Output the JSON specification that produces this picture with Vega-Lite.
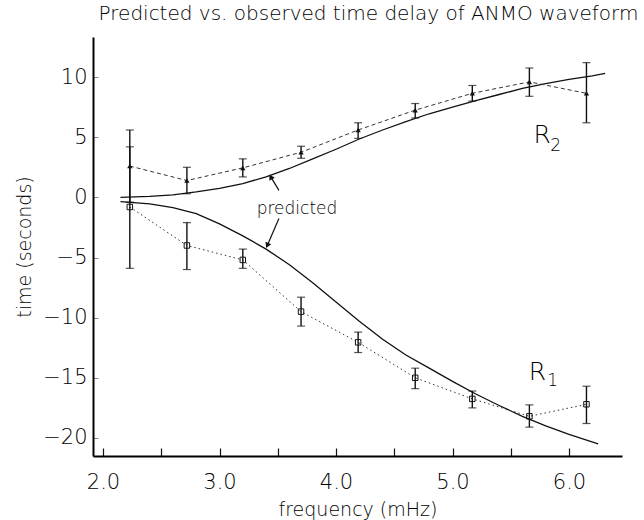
{
  "$schema": "https://vega.github.io/schema/vega-lite/v6.json",
  "width": 529,
  "height": 419,
  "autosize": "none",
  "padding": {"left": 93, "top": 37, "right": 22, "bottom": 64},
  "background": "white",
  "config": {
    "view": {"stroke": null},
    "font": "DejaVu Sans",
    "title": {"font": "DejaVu Sans", "fontWeight": 200, "fontSize": 20, "color": "#000"},
    "axis": {"labelFont": "DejaVu Sans", "titleFont": "DejaVu Sans", "labelFontWeight": 200, "titleFontWeight": 200, "labelColor": "#000", "titleColor": "#000", "grid": false}
  },
  "title": {"text": "Predicted vs. observed time delay of ANMO waveform", "anchor": "middle", "offset": 13, "dx": 11},
  "datasets": {
    "observed": [
      {"f": 2.23, "t": 2.6, "lo": -0.4, "hi": 5.6, "series": "R2"},
      {"f": 2.72, "t": 1.4, "lo": 0.3, "hi": 2.5, "series": "R2"},
      {"f": 3.2, "t": 2.45, "lo": 1.7, "hi": 3.2, "series": "R2"},
      {"f": 3.7, "t": 3.75, "lo": 3.25, "hi": 4.25, "series": "R2"},
      {"f": 4.19, "t": 5.6, "lo": 4.9, "hi": 6.2, "series": "R2"},
      {"f": 4.68, "t": 7.25, "lo": 6.6, "hi": 7.8, "series": "R2"},
      {"f": 5.17, "t": 8.65, "lo": 8.0, "hi": 9.3, "series": "R2"},
      {"f": 5.66, "t": 9.6, "lo": 8.4, "hi": 10.75, "series": "R2"},
      {"f": 6.15, "t": 8.65, "lo": 6.2, "hi": 11.2, "series": "R2"},
      {"f": 2.23, "t": -0.8, "lo": -5.9, "hi": 4.2, "series": "R1"},
      {"f": 2.72, "t": -4.0, "lo": -6.0, "hi": -2.1, "series": "R1"},
      {"f": 3.2, "t": -5.2, "lo": -5.9, "hi": -4.3, "series": "R1"},
      {"f": 3.7, "t": -9.5, "lo": -10.7, "hi": -8.3, "series": "R1"},
      {"f": 4.19, "t": -12.05, "lo": -12.9, "hi": -11.2, "series": "R1"},
      {"f": 4.68, "t": -15.0, "lo": -15.9, "hi": -14.2, "series": "R1"},
      {"f": 5.17, "t": -16.75, "lo": -17.5, "hi": -16.1, "series": "R1"},
      {"f": 5.66, "t": -18.2, "lo": -19.1, "hi": -17.25, "series": "R1"},
      {"f": 6.15, "t": -17.2, "lo": -18.8, "hi": -15.7, "series": "R1"}
    ],
    "predicted": [
      {"f": 2.15, "t": -0.35, "series": "R1"},
      {"f": 2.4, "t": -0.55, "series": "R1"},
      {"f": 2.6, "t": -0.85, "series": "R1"},
      {"f": 2.8, "t": -1.35, "series": "R1"},
      {"f": 3.0, "t": -2.2, "series": "R1"},
      {"f": 3.2, "t": -3.2, "series": "R1"},
      {"f": 3.4, "t": -4.3, "series": "R1"},
      {"f": 3.6, "t": -5.6, "series": "R1"},
      {"f": 3.8, "t": -7.1, "series": "R1"},
      {"f": 4.0, "t": -8.7, "series": "R1"},
      {"f": 4.2, "t": -10.3, "series": "R1"},
      {"f": 4.4, "t": -11.8, "series": "R1"},
      {"f": 4.6, "t": -13.1, "series": "R1"},
      {"f": 4.8, "t": -14.2, "series": "R1"},
      {"f": 5.0, "t": -15.3, "series": "R1"},
      {"f": 5.2, "t": -16.35, "series": "R1"},
      {"f": 5.4, "t": -17.3, "series": "R1"},
      {"f": 5.6, "t": -18.2, "series": "R1"},
      {"f": 5.8, "t": -19.0, "series": "R1"},
      {"f": 6.0, "t": -19.7, "series": "R1"},
      {"f": 6.25, "t": -20.5, "series": "R1"},
      {"f": 2.15, "t": 0.0, "series": "R2"},
      {"f": 2.4, "t": 0.08, "series": "R2"},
      {"f": 2.6, "t": 0.2, "series": "R2"},
      {"f": 2.8, "t": 0.45, "series": "R2"},
      {"f": 3.0, "t": 0.75, "series": "R2"},
      {"f": 3.2, "t": 1.15, "series": "R2"},
      {"f": 3.4, "t": 1.7, "series": "R2"},
      {"f": 3.6, "t": 2.4, "series": "R2"},
      {"f": 3.8, "t": 3.2, "series": "R2"},
      {"f": 4.0, "t": 4.0, "series": "R2"},
      {"f": 4.2, "t": 4.85, "series": "R2"},
      {"f": 4.4, "t": 5.6, "series": "R2"},
      {"f": 4.6, "t": 6.3, "series": "R2"},
      {"f": 4.8, "t": 6.95, "series": "R2"},
      {"f": 5.0, "t": 7.5, "series": "R2"},
      {"f": 5.2, "t": 8.05, "series": "R2"},
      {"f": 5.4, "t": 8.55, "series": "R2"},
      {"f": 5.6, "t": 9.05, "series": "R2"},
      {"f": 5.8, "t": 9.45, "series": "R2"},
      {"f": 6.0, "t": 9.8, "series": "R2"},
      {"f": 6.2, "t": 10.1, "series": "R2"},
      {"f": 6.31, "t": 10.3, "series": "R2"}
    ],
    "arrows": [
      {"id": "a1", "f": 3.51, "t": 0.58, "f2": 3.44, "t2": 1.7},
      {"id": "a2", "f": 3.51, "t": -1.75, "f2": 3.41, "t2": -4.0}
    ],
    "labels": [
      {"text": "R", "f": 5.77, "t": 5.17, "kind": "main"},
      {"text": "2", "f": 5.885, "t": 4.3, "kind": "sub"},
      {"text": "R", "f": 5.73, "t": -14.5, "kind": "main"},
      {"text": "1", "f": 5.86, "t": -15.3, "kind": "sub"},
      {"text": "predicted", "f": 3.665, "t": -1.0, "kind": "note"}
    ]
  },
  "encoding": {
    "x": {
      "field": "f", "type": "quantitative",
      "scale": {"domain": [1.914, 6.455], "nice": false, "zero": false},
      "axis": {
        "title": "frequency (mHz)", "titleFontSize": 19, "titlePadding": 8,
        "values": [2, 2.5, 3, 3.5, 4, 4.5, 5, 5.5, 6],
        "labelExpr": "datum.value % 1 == 0 ? format(datum.value, '.1f') : ''",
        "labelFontSize": 21, "labelPadding": 23,
        "tickSize": -8, "tickColor": "#111", "tickWidth": 1.2,
        "domainColor": "#000", "domainWidth": 2
      }
    },
    "y": {
      "field": "t", "type": "quantitative",
      "scale": {"domain": [-21.5, 13.33], "nice": false, "zero": false},
      "axis": {
        "title": "time (seconds)", "titleFontSize": 19, "titlePadding": 8,
        "values": [-20, -15, -10, -5, 0, 5, 10],
        "labelFontSize": 21, "labelPadding": 11,
        "tickSize": -5, "tickColor": "#888", "tickWidth": 1,
        "domainColor": "#000", "domainWidth": 2
      }
    }
  },
  "layer": [
    {
      "data": {"name": "predicted"},
      "mark": {"type": "line", "color": "#111", "strokeWidth": 1.3},
      "encoding": {"detail": {"field": "series"}}
    },
    {
      "data": {"name": "observed"},
      "mark": {"type": "line", "color": "#333", "strokeWidth": 1},
      "encoding": {
        "strokeDash": {"field": "series", "type": "nominal", "scale": {"domain": ["R1", "R2"], "range": [[1.5, 3], [4, 3]]}, "legend": null}
      }
    },
    {
      "data": {"name": "observed"},
      "mark": {"type": "rule", "color": "#111", "strokeWidth": 1.4},
      "encoding": {"y": {"field": "lo", "type": "quantitative"}, "y2": {"field": "hi"}}
    },
    {
      "data": {"name": "observed"},
      "mark": {"type": "tick", "orient": "horizontal", "color": "#111", "size": 8, "thickness": 1.2},
      "encoding": {"y": {"field": "hi", "type": "quantitative"}}
    },
    {
      "data": {"name": "observed"},
      "mark": {"type": "tick", "orient": "horizontal", "color": "#111", "size": 8, "thickness": 1.2},
      "encoding": {"y": {"field": "lo", "type": "quantitative"}}
    },
    {
      "data": {"name": "observed"},
      "transform": [{"filter": "datum.series == 'R1'"}],
      "mark": {"type": "point", "shape": "square", "filled": false, "color": "#111", "size": 30, "strokeWidth": 1, "opacity": 1}
    },
    {
      "data": {"name": "observed"},
      "transform": [{"filter": "datum.series == 'R2'"}],
      "mark": {"type": "point", "shape": "triangle-up", "filled": true, "color": "#111", "size": 28, "opacity": 1}
    },
    {
      "data": {"name": "arrows"},
      "mark": {"type": "rule", "color": "#111", "strokeWidth": 1.2},
      "encoding": {"x2": {"field": "f2"}, "y2": {"field": "t2"}}
    },
    {
      "data": {"name": "arrows"},
      "transform": [{"filter": "datum.id == 'a1'"}],
      "mark": {"type": "point", "shape": "triangle-up", "filled": true, "color": "#111", "size": 40, "angle": 330, "opacity": 1},
      "encoding": {"x": {"field": "f2", "type": "quantitative"}, "y": {"field": "t2", "type": "quantitative"}}
    },
    {
      "data": {"name": "arrows"},
      "transform": [{"filter": "datum.id == 'a2'"}],
      "mark": {"type": "point", "shape": "triangle-up", "filled": true, "color": "#111", "size": 40, "angle": 204, "opacity": 1},
      "encoding": {"x": {"field": "f2", "type": "quantitative"}, "y": {"field": "t2", "type": "quantitative"}}
    },
    {
      "data": {"name": "labels"},
      "transform": [{"filter": "datum.kind == 'main'"}],
      "mark": {"type": "text", "fontSize": 25, "fontWeight": 200, "color": "#000", "align": "center", "baseline": "middle"},
      "encoding": {"text": {"field": "text"}}
    },
    {
      "data": {"name": "labels"},
      "transform": [{"filter": "datum.kind == 'sub'"}],
      "mark": {"type": "text", "fontSize": 17, "fontWeight": 200, "color": "#000", "align": "center", "baseline": "middle"},
      "encoding": {"text": {"field": "text"}}
    },
    {
      "data": {"name": "labels"},
      "transform": [{"filter": "datum.kind == 'note'"}],
      "mark": {"type": "text", "fontSize": 17, "fontWeight": 200, "color": "#000", "align": "center", "baseline": "middle"},
      "encoding": {"text": {"field": "text"}}
    }
  ]
}
